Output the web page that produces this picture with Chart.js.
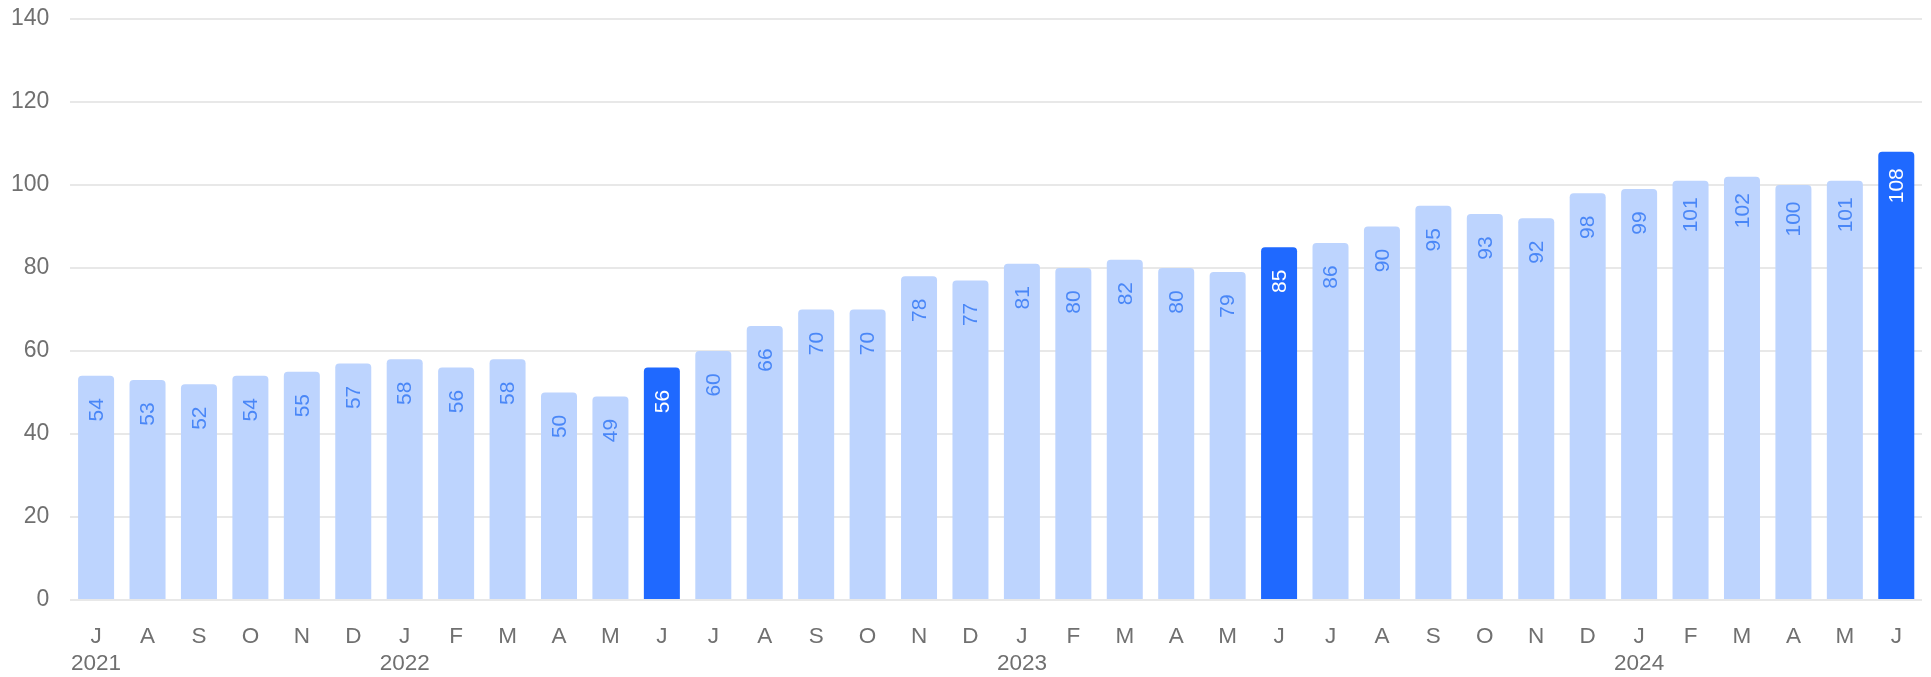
<!DOCTYPE html>
<html>
<head>
<meta charset="utf-8">
<script src="https://cdn.jsdelivr.net/npm/chart.js@4"></script>
<style>
  html, body { margin: 0; padding: 0; background: #fff; }
  #wrap { width: 1931px; height: 677px; }
</style>
</head>
<body>
<div id="wrap"><canvas id="myChart"></canvas></div>
<script>
const months = ['J','A','S','O','N','D','J','F','M','A','M','J','J','A','S','O','N','D','J','F','M','A','M','J','J','A','S','O','N','D','J','F','M','A','M','J'];
const years = ['2021','','','','','','2022','','','','','','','','','','','','2023','','','','','','','','','','','','2024','','','','',''];
const values = [54,53,52,54,55,57,58,56,58,50,49,56,60,66,70,70,78,77,81,80,82,80,79,85,86,90,95,93,92,98,99,101,102,100,101,108];
const highlighted = [11, 23, 35];
const yTicks = [0, 20, 40, 60, 80, 100, 120, 140];

const lightBar = '#bdd4fe';
const darkBar = '#1f69ff';
const FONT = '"Liberation Sans", Arial, Helvetica, sans-serif';

const labels = months.map((m, i) => years[i] ? [m, years[i]] : m);
const colors = values.map((v, i) => highlighted.includes(i) ? darkBar : lightBar);

// value labels, rotated, near the top of each bar
const barLabels = {
    id: 'barLabels',
    afterDatasetsDraw(chart) {
        const ctx = chart.ctx;
        const meta = chart.getDatasetMeta(0);
        ctx.save();
        ctx.font = '21px ' + FONT;
        ctx.textAlign = 'center';
        ctx.textBaseline = 'middle';
        meta.data.forEach((bar, i) => {
            ctx.save();
            ctx.translate(bar.x, bar.y + 34);
            ctx.rotate(-Math.PI / 2);
            ctx.fillStyle = highlighted.includes(i) ? '#ffffff' : '#4a87f7';
            ctx.fillText(String(values[i]), 0, 1);
            ctx.restore();
        });
        ctx.restore();
    }
};

const ctx = document.getElementById('myChart');
new Chart(ctx, {
    type: 'bar',
    data: {
        labels: labels,
        datasets: [{
            data: values,
            backgroundColor: colors,
            borderRadius: 4,
            borderSkipped: 'start',
            categoryPercentage: 1,
            barPercentage: 0.7
        }]
    },
    options: {
        responsive: true,
        maintainAspectRatio: false,
        animation: false,
        layout: {
            padding: { top: 19, right: 9, left: 11, bottom: 0 }
        },
        plugins: {
            legend: { display: false },
            tooltip: { enabled: false }
        },
        scales: {
            x: {
                grid: { display: false, drawTicks: true, tickLength: 24 },
                border: { display: false },
                ticks: {
                    color: '#707070',
                    font: { family: FONT, size: 22.5, lineHeight: 1.18 },
                    padding: 0,
                    maxRotation: 0,
                    autoSkip: false
                }
            },
            y: {
                min: 0,
                max: 140,
                afterBuildTicks(axis) {
                    axis.ticks = yTicks.map(v => ({ value: v }));
                },
                grid: { color: '#e8e8e8', lineWidth: 2, drawTicks: true, tickLength: 21, tickColor: 'rgba(0,0,0,0)' },
                border: { display: false },
                ticks: {
                    color: '#707070',
                    font: { family: FONT, size: 23 },
                    padding: 0
                }
            }
        }
    },
    plugins: [barLabels]
});
</script>
</body>
</html>
